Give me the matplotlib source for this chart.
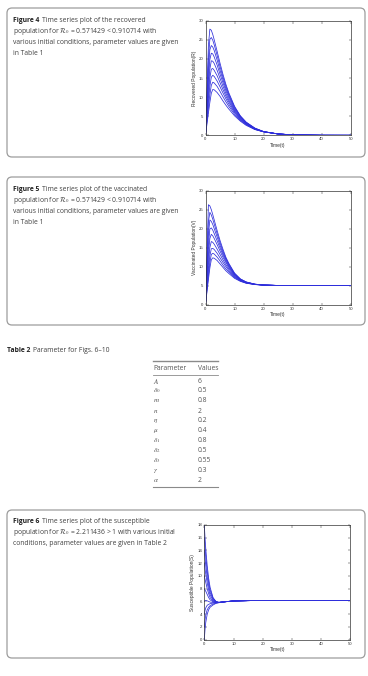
import matplotlib
matplotlib.use('Agg')
import matplotlib.pyplot as plt
from matplotlib.patches import FancyBboxPatch
from matplotlib.lines import Line2D

# ---------------- data ----------------
t_fig45 = [0, 1, 1.5, 2, 2.5, 3, 4, 5, 6, 7, 8, 10, 12, 14, 17, 20, 25, 30, 40, 50]

recovered_curves = [
    [0, 5.8, 8.6, 11.0, 12.0, 11.9, 11.2, 10.2, 9.0, 7.9, 6.9, 5.1, 3.7, 2.6, 1.5, 0.9, 0.35, 0.12, 0.01, 0],
    [0, 7.2, 10.6, 13.1, 13.9, 13.7, 12.8, 11.5, 10.1, 8.8, 7.6, 5.5, 3.9, 2.75, 1.55, 0.9, 0.35, 0.12, 0.01, 0],
    [0, 8.8, 12.8, 15.2, 15.7, 15.4, 14.2, 12.7, 11.1, 9.6, 8.2, 5.9, 4.1, 2.9, 1.6, 0.92, 0.35, 0.12, 0.01, 0],
    [0, 10.5, 15.0, 17.3, 17.5, 17.0, 15.6, 13.8, 12.0, 10.3, 8.8, 6.2, 4.3, 3.0, 1.65, 0.93, 0.35, 0.12, 0.01, 0],
    [0, 12.4, 17.3, 19.5, 19.4, 18.8, 17.0, 14.9, 12.9, 11.0, 9.3, 6.5, 4.5, 3.1, 1.7, 0.94, 0.35, 0.12, 0.01, 0],
    [0, 14.5, 19.8, 21.5, 21.3, 20.5, 18.4, 16.0, 13.8, 11.7, 9.9, 6.8, 4.7, 3.2, 1.75, 0.95, 0.35, 0.12, 0.01, 0],
    [0, 17.0, 22.4, 23.5, 23.1, 22.2, 19.7, 17.0, 14.6, 12.3, 10.4, 7.1, 4.9, 3.3, 1.8, 0.96, 0.35, 0.12, 0.01, 0],
    [0, 20.0, 25.1, 25.6, 24.9, 23.7, 20.9, 18.0, 15.3, 12.9, 10.8, 7.4, 5.0, 3.4, 1.85, 0.97, 0.35, 0.12, 0.01, 0],
    [0, 23.5, 27.8, 27.5, 26.4, 25.0, 22.0, 18.9, 16.0, 13.4, 11.2, 7.6, 5.1, 3.45, 1.9, 0.98, 0.36, 0.12, 0.01, 0],
]

vaccinated_curves = [
    [0, 6.5, 9.6, 11.8, 12.3, 12.2, 11.6, 10.7, 9.8, 8.9, 8.2, 6.9, 6.1, 5.6, 5.25, 5.1, 5.02, 5.0, 5.0, 5.0],
    [0, 7.6, 11.0, 13.2, 13.5, 13.3, 12.5, 11.5, 10.4, 9.4, 8.6, 7.1, 6.2, 5.65, 5.27, 5.1, 5.02, 5.0, 5.0, 5.0],
    [0, 9.0, 12.8, 14.7, 14.8, 14.5, 13.5, 12.3, 11.1, 10.0, 9.0, 7.3, 6.3, 5.7, 5.28, 5.11, 5.02, 5.0, 5.0, 5.0],
    [0, 10.8, 15.0, 16.6, 16.4, 15.9, 14.6, 13.2, 11.8, 10.5, 9.4, 7.5, 6.4, 5.75, 5.3, 5.12, 5.02, 5.0, 5.0, 5.0],
    [0, 13.0, 17.4, 18.5, 18.1, 17.4, 15.8, 14.1, 12.5, 11.1, 9.8, 7.7, 6.5, 5.8, 5.32, 5.12, 5.02, 5.0, 5.0, 5.0],
    [0, 15.5, 19.9, 20.2, 19.6, 18.7, 16.8, 14.9, 13.1, 11.5, 10.1, 7.9, 6.6, 5.85, 5.33, 5.13, 5.02, 5.0, 5.0, 5.0],
    [0, 18.5, 22.3, 21.9, 21.1, 20.0, 17.8, 15.6, 13.6, 11.9, 10.4, 8.0, 6.65, 5.9, 5.35, 5.13, 5.02, 5.0, 5.0, 5.0],
    [0, 21.8, 24.3, 23.6, 22.5, 21.2, 18.7, 16.3, 14.1, 12.2, 10.7, 8.15, 6.7, 5.92, 5.36, 5.14, 5.02, 5.0, 5.0, 5.0],
    [0, 26.3, 26.0, 25.0, 23.7, 22.3, 19.5, 16.9, 14.6, 12.5, 10.9, 8.3, 6.75, 5.95, 5.37, 5.14, 5.02, 5.0, 5.0, 5.0],
]

t_fig6 = [0, 0.25, 0.5, 1, 1.5, 2, 3, 4, 5, 7, 10, 15, 20, 30, 50]

susceptible_curves = [
    [18, 16.0, 14.3, 11.6, 9.6, 8.2, 6.6, 6.0, 5.85, 5.95, 6.08, 6.13, 6.15, 6.15, 6.15],
    [16, 14.4, 13.0, 10.7, 9.0, 7.8, 6.5, 5.97, 5.85, 5.95, 6.08, 6.13, 6.15, 6.15, 6.15],
    [14, 12.8, 11.6, 9.8, 8.4, 7.4, 6.35, 5.95, 5.85, 5.95, 6.08, 6.13, 6.15, 6.15, 6.15],
    [12, 11.1, 10.3, 8.9, 7.8, 7.0, 6.2, 5.92, 5.85, 5.95, 6.08, 6.13, 6.15, 6.15, 6.15],
    [10, 9.5, 9.0, 8.0, 7.2, 6.6, 6.05, 5.9, 5.85, 5.95, 6.08, 6.13, 6.15, 6.15, 6.15],
    [8, 7.8, 7.6, 7.1, 6.6, 6.25, 5.95, 5.88, 5.86, 5.95, 6.08, 6.13, 6.15, 6.15, 6.15],
    [6, 6.1, 6.15, 6.1, 6.0, 5.9, 5.85, 5.85, 5.87, 5.95, 6.08, 6.13, 6.15, 6.15, 6.15],
    [4, 4.6, 5.0, 5.4, 5.55, 5.65, 5.75, 5.8, 5.85, 5.95, 6.08, 6.13, 6.15, 6.15, 6.15],
    [2, 3.1, 3.9, 4.7, 5.1, 5.35, 5.6, 5.75, 5.83, 5.95, 6.08, 6.13, 6.15, 6.15, 6.15],
    [0, 1.6, 2.7, 4.0, 4.7, 5.1, 5.45, 5.7, 5.8, 5.95, 6.08, 6.13, 6.15, 6.15, 6.15],
]

x_ticks = [0, 10, 20, 30, 40, 50]
y_ticks_45 = [0, 5, 10, 15, 20, 25, 30]
y_ticks_6 = [0, 2, 4, 6, 8, 10, 12, 14, 16, 18]

table_params = [r'$A$', r'$\delta_0$', r'$m$', r'$n$', r'$\eta$', r'$\mu$',
                r'$\delta_1$', r'$\delta_2$', r'$\delta_3$', r'$\gamma$', r'$\alpha$']
table_values = ['6', '0.5', '0.8', '2', '0.2', '0.4', '0.8', '0.5', '0.55', '0.3', '2']

# ---------------- layout ----------------
W, H = 368, 676
plt.rcParams['mathtext.fontset'] = 'stix'
fig = plt.figure(figsize=(W / 100, H / 100), dpi=100)
fig.patch.set_facecolor('white')

CAP_FONT = ['Open Sans', 'DejaVu Sans']
AX_FONT = ['Liberation Sans', 'DejaVu Sans']
CAP_FS = 4.87
LINE_COLOR = (0.18, 0.18, 0.86)


def fx(x):
    return x / W


def fy(y):
    return 1 - y / H


renderer = fig.canvas.get_renderer()


def add_box(top, bottom, left=7, right=365, r=5):
    p = FancyBboxPatch((fx(left), fy(bottom)), fx(right) - fx(left), fy(top) - fy(bottom),
                       boxstyle='round,pad=0,rounding_size=%f' % (r / W),
                       mutation_aspect=W / H,
                       transform=fig.transFigure, fc='none', ec='#9c9c9c', lw=0.9)
    fig.patches.append(p)


def caption(x, y, bold, lines, dy=11):
    t = fig.text(fx(x), fy(y), bold, fontweight='bold', fontsize=CAP_FS,
                 family=CAP_FONT, color='#222222', va='baseline', ha='left')
    bb = t.get_window_extent(renderer)
    fig.text(bb.x1 / W + fx(3), fy(y), lines[0], fontsize=CAP_FS, family=CAP_FONT,
             color='#404040', va='baseline', ha='left')
    for i, ln in enumerate(lines[1:], start=1):
        fig.text(fx(x), fy(y + i * dy), ln, fontsize=CAP_FS, family=CAP_FONT,
                 color='#404040', va='baseline', ha='left')


def make_axes(left, right, top, bottom, ylim, yticks, ylabel):
    ax = fig.add_axes([fx(left), fy(bottom), fx(right) - fx(left), fy(top) - fy(bottom)])
    ax.set_xlim(0, 50)
    ax.set_ylim(*ylim)
    ax.set_xticks(x_ticks)
    ax.set_yticks(yticks)
    ax.tick_params(direction='in', length=1.8, width=0.35, labelsize=3.1, pad=1.5,
                   top=True, right=True, colors='#333333')
    for lab in ax.get_xticklabels() + ax.get_yticklabels():
        lab.set_family(AX_FONT)
    for s in ax.spines.values():
        s.set_linewidth(0.5)
        s.set_color('#333333')
    ax.set_xlabel('Time(t)', fontsize=3.5, labelpad=1.0, family=AX_FONT, color='#333333')
    ax.set_ylabel(ylabel, fontsize=3.5, labelpad=1.5, family=AX_FONT, color='#333333')
    return ax


# ---- Figure 4 ----
add_box(8, 157)
caption(13, 22, 'Figure 4',
        ['Time series plot of the recovered',
         r'population for $\mathcal{R}_0$ = 0.571429 < 0.910714 with',
         'various initial conditions, parameter values are given',
         'in Table 1'])
ax4 = make_axes(205.5, 350.7, 20.7, 135.3, (0, 30), y_ticks_45, 'Recovered Population(R)')
for c in recovered_curves:
    ax4.plot(t_fig45, c, color=LINE_COLOR, lw=0.55)

# ---- Figure 5 ----
add_box(177, 325)
caption(13, 191, 'Figure 5',
        ['Time series plot of the vaccinated',
         r'population for $\mathcal{R}_0$ = 0.571429 < 0.910714 with',
         'various initial conditions, parameter values are given',
         'in Table 1'])
ax5 = make_axes(205.5, 350.7, 190.7, 304.5, (0, 30), y_ticks_45, 'Vaccinated Population(V)')
for c in vaccinated_curves:
    ax5.plot(t_fig45, c, color=LINE_COLOR, lw=0.55)

# ---- Table 2 ----
caption(7, 352, 'Table 2', ['Parameter for Figs. 6\u201310'])
tl, tr = 153, 218
fig.add_artist(Line2D([fx(tl), fx(tr)], [fy(361), fy(361)], color='#8a8a8a', lw=1.0,
                      transform=fig.transFigure))
fig.add_artist(Line2D([fx(tl), fx(tr)], [fy(374.5), fy(374.5)], color='#8a8a8a', lw=0.6,
                      transform=fig.transFigure))
fig.add_artist(Line2D([fx(tl), fx(tr)], [fy(487), fy(487)], color='#8a8a8a', lw=0.8,
                      transform=fig.transFigure))
fig.text(fx(tl), fy(368), 'Parameter', fontsize=CAP_FS, family=CAP_FONT, color='#555555',
         va='center', ha='left')
fig.text(fx(197.5), fy(368), 'Values', fontsize=CAP_FS, family=CAP_FONT, color='#555555',
         va='center', ha='left')
for i, (p, v) in enumerate(zip(table_params, table_values)):
    y = 381 + i * 10
    fig.text(fx(tl), fy(y), p, fontsize=CAP_FS + 0.3, family=CAP_FONT, color='#555555',
             va='center', ha='left')
    fig.text(fx(197.5), fy(y), v, fontsize=CAP_FS, family=CAP_FONT, color='#555555',
             va='center', ha='left')

# ---- Figure 6 ----
add_box(510, 658)
caption(13, 523, 'Figure 6',
        ['Time series plot of the susceptible',
         r'population for $\mathcal{R}_0$ = 2.211436 > 1 with various initial',
         'conditions, parameter values are given in Table 2'])
ax6 = make_axes(204.3, 350.3, 525, 639.7, (0, 18), y_ticks_6, 'Susceptible Population(S)')
for c in susceptible_curves:
    ax6.plot(t_fig6, c, color=LINE_COLOR, lw=0.55)

fig.savefig('out.png', dpi=100, facecolor='white')
